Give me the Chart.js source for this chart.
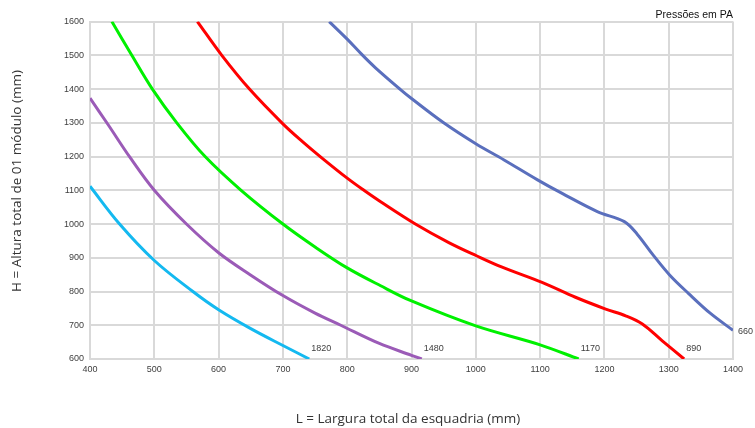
<!DOCTYPE html>
<html>
<head>
<meta charset="utf-8">
<script src="https://cdn.jsdelivr.net/npm/chart.js@4/dist/chart.umd.min.js"></script>
<style>
html,body{margin:0;padding:0;background:#fff;}
#wrap{width:755px;height:428px;}
</style>
</head>
<body>
<div id="wrap"><canvas id="c" width="755" height="428"></canvas></div>
<script>
// Pressure curves (Pa): L = largura (mm), H = altura (mm)
const pressureLabels = ['1820', '1480', '1170', '890', '660'];

const width1820  = [400, 446, 500, 560, 600, 650, 700, 741];
const height1820 = [1112, 1000, 892, 800, 746, 690, 640, 600];

const width1480  = [400, 428, 462, 500, 550, 600, 649, 700, 750, 790, 850, 900, 916];
const height1480 = [1373, 1295, 1198, 1100, 1000, 915, 850, 788, 736, 700, 646, 611, 600];

const width1170  = [434, 465, 497, 535, 579, 635, 700, 750, 800, 852, 900, 1000, 1100, 1160];
const height1170 = [1600, 1500, 1400, 1300, 1200, 1100, 1000, 932, 870, 817, 772, 698, 642, 600];

const width890  = [567, 605, 648, 700, 730, 758, 800, 826, 852, 906, 958, 1001, 1041, 1103, 1155, 1202, 1233, 1259, 1290, 1324];
const height890 = [1600, 1500, 1400, 1297, 1245, 1200, 1136, 1100, 1066, 1000, 945, 906, 872, 827, 783, 748, 728, 704, 654, 600];

const width660  = [772, 800, 823, 844, 882, 900, 950, 1000, 1044, 1096, 1135, 1189, 1231, 1251, 1275, 1301, 1331, 1365, 1400];
const height660 = [1600, 1548, 1502, 1463, 1400, 1372, 1300, 1238, 1190, 1131, 1090, 1037, 1007, 970, 910, 850, 794, 735, 685];

const xTickValues = [400, 500, 600, 700, 800, 900, 1000, 1100, 1200, 1300, 1400];
const yTickValues = [600, 700, 800, 900, 1000, 1100, 1200, 1300, 1400, 1500, 1600];

const titleText = 'Pressões em PA';
const xTitle = 'L = Largura total da esquadria (mm)';
const yTitle = 'H = Altura total de 01 módulo (mm)';

const seriesColors = ['#14b9f0', '#9b5bb7', '#00f000', '#ff0000', '#5a6fbd'];

function toPoints(xs, ys) { return xs.map((x, i) => ({x: x, y: ys[i]})); }
const seriesData = [
  toPoints(width1820, height1820),
  toPoints(width1480, height1480),
  toPoints(width1170, height1170),
  toPoints(width890, height890),
  toPoints(width660, height660)
];

const endLabels = {
  id: 'endLabels',
  afterDatasetsDraw(chart) {
    const ctx = chart.ctx;
    const area = chart.chartArea;
    chart.data.datasets.forEach((ds, i) => {
      const meta = chart.getDatasetMeta(i);
      const pt = meta.data[meta.data.length - 1];
      ctx.save();
      ctx.font = '9px "Liberation Sans", Arial, sans-serif';
      ctx.fillStyle = '#404040';
      ctx.textAlign = 'left';
      ctx.textBaseline = 'middle';
      if (pt.y >= area.bottom - 2) {
        ctx.fillText(ds.label, pt.x + 2, pt.y - 10);
      } else {
        ctx.fillText(ds.label, pt.x + 5, pt.y + 1);
      }
      ctx.restore();
    });
  }
};

const axisTitles = {
  id: 'axisTitles',
  afterDraw(chart) {
    const ctx = chart.ctx;
    ctx.save();
    ctx.font = '13.5px "Open Sans", sans-serif';
    ctx.fillStyle = '#333';
    ctx.textAlign = 'center';
    ctx.textBaseline = 'middle';
    ctx.fillText(xTitle, 408, 419);
    ctx.translate(17, 181);
    ctx.rotate(-Math.PI / 2);
    ctx.fillText(yTitle, 0, 0);
    ctx.restore();
  }
};

const gridColor = '#d9d9d9';
const tickFont = {family: '"Liberation Sans", Arial, sans-serif', size: 9};

new Chart(document.getElementById('c'), {
  type: 'scatter',
  data: {
    datasets: seriesData.map((pts, i) => ({
      label: pressureLabels[i],
      data: pts,
      showLine: true,
      borderColor: seriesColors[i],
      backgroundColor: seriesColors[i],
      borderWidth: 3,
      pointRadius: 0,
      pointHoverRadius: 0,
      tension: 0.35,
      fill: false
    }))
  },
  options: {
    responsive: false,
    animation: false,
    devicePixelRatio: 1,
    layout: {padding: {left: 0, right: 22, top: 0, bottom: 0}},
    plugins: {
      legend: {display: false},
      tooltip: {enabled: false},
      title: {
        display: true,
        text: titleText,
        align: 'end',
        color: '#111',
        font: {family: '"Liberation Sans", Arial, sans-serif', size: 10.5, weight: 'normal'},
        padding: {top: 9, bottom: 0}
      }
    },
    scales: {
      x: {
        type: 'linear',
        min: 400, max: 1400,
        afterBuildTicks(scale) { scale.ticks = xTickValues.map(v => ({value: v})); },
        afterFit(scale) { scale.height = 69; },
        grid: {color: gridColor, lineWidth: 2, drawTicks: false},
        border: {display: true, color: gridColor, width: 2},
        ticks: {
          padding: 5,
          color: '#404040',
          font: tickFont,
          maxRotation: 0,
          callback: v => String(v)
        }
      },
      y: {
        type: 'linear',
        min: 600, max: 1600,
        afterBuildTicks(scale) { scale.ticks = yTickValues.map(v => ({value: v})); },
        afterFit(scale) { scale.width = 90; },
        grid: {color: gridColor, lineWidth: 2, drawTicks: false},
        border: {display: true, color: gridColor, width: 2},
        ticks: {
          padding: 6,
          color: '#404040',
          font: tickFont,
          callback: v => String(v)
        }
      }
    }
  },
  plugins: [endLabels, axisTitles]
});
</script>
</body>
</html>
